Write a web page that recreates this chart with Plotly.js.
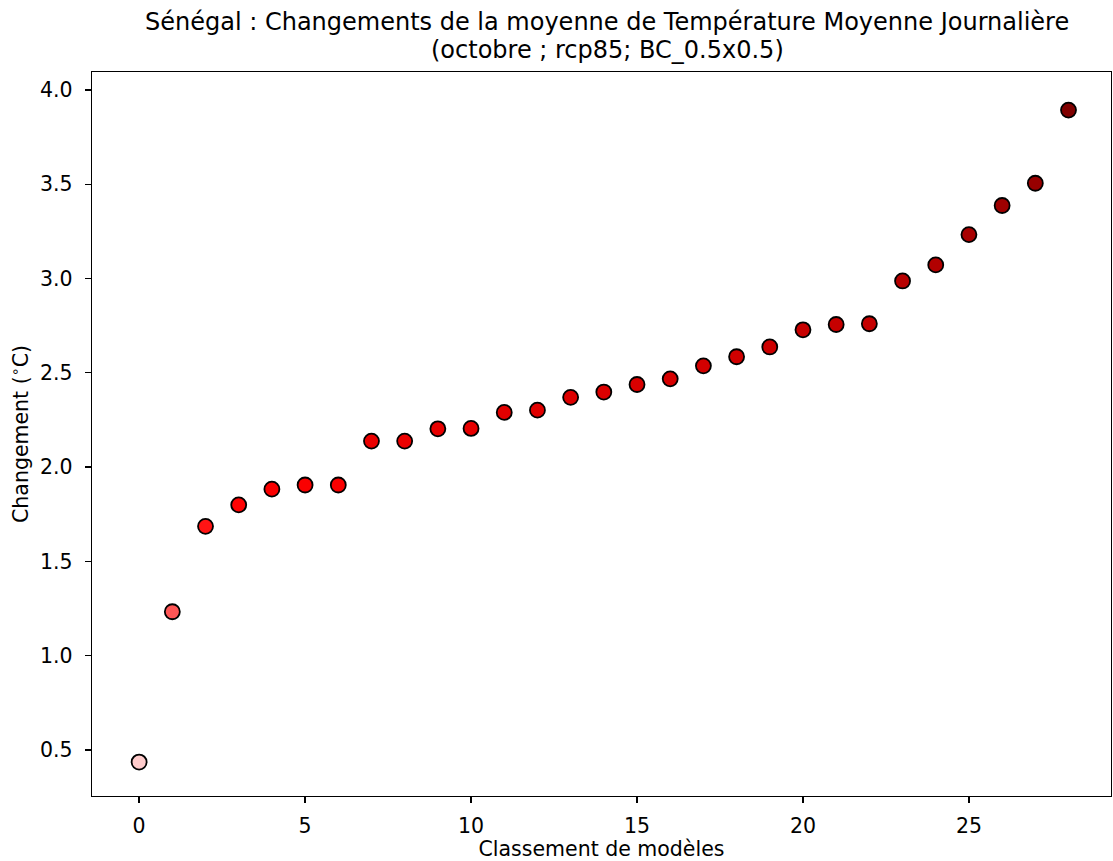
<!DOCTYPE html>
<html>
<head>
<meta charset="utf-8">
<script src="https://cdn.plot.ly/plotly-3.0.1.min.js"></script>
<style>html,body{margin:0;padding:0;background:#fff;}#chart{width:1113px;height:861px;}</style>
</head>
<body>
<div id="chart"></div>
<script>
const ranks = [0,1,2,3,4,5,6,7,8,9,10,11,12,13,14,15,16,17,18,19,20,21,22,23,24,25,26,27,28];
const changes = [0.436,1.233,1.686,1.800,1.883,1.905,1.905,2.138,2.138,2.203,2.205,2.290,2.302,2.370,2.398,2.438,2.468,2.537,2.585,2.637,2.728,2.756,2.760,2.987,3.072,3.233,3.387,3.505,3.893];
const xTicks = [0,5,10,15,20,25];
const yTicks = [0.5,1.0,1.5,2.0,2.5,3.0,3.5,4.0];
const yTickText = ['0.5','1.0','1.5','2.0','2.5','3.0','3.5','4.0'];
const titleLines = ['Sénégal : Changements de la moyenne de Température Moyenne Journalière', '(octobre ; rcp85; BC_0.5x0.5)'];

const font = "DejaVu Sans, sans-serif";
const trace = {
  x: ranks, y: changes, type: 'scatter', mode: 'markers',
  marker: {
    size: 15,
    color: changes,
    cmin: Math.min(...changes), cmax: Math.max(...changes),
    colorscale: [[0,'#ffcccc'],[0.4,'#ff0000'],[1,'#800000']],
    line: {color: '#000', width: 1.8}
  },
  hoverinfo: 'x+y'
};
const axisCommon = {
  showline: true, linecolor: '#000', linewidth: 1.4, mirror: true,
  ticks: 'outside', ticklen: 6, tickwidth: 1.4, tickcolor: '#000',
  showgrid: false, zeroline: false,
  tickfont: {family: font, size: 20.5, color: '#000'}
};
const layout = {
  width: 1113, height: 861,
  margin: {l: 92, r: 2, t: 72, b: 65},
  paper_bgcolor: '#fff', plot_bgcolor: '#fff',
  showlegend: false,
  annotations: titleLines.map((t, i) => ({
    text: t, xref: 'paper', yref: 'paper', x: 0.5054, y: i === 0 ? 1.0685 : 1.0305,
    xanchor: 'center', yanchor: 'middle', showarrow: false,
    font: {family: font, size: 24, color: '#000'}
  })),
  xaxis: Object.assign({}, axisCommon, {
    range: [-1.42, 29.28], tickvals: xTicks, ticktext: xTicks.map(String), ticklabelstandoff: 5,
    title: {text: 'Classement de modèles', font: {family: font, size: 20.5, color: '#000'}, standoff: 13}
  }),
  yaxis: Object.assign({}, axisCommon, {
    range: [0.256, 4.095], tickvals: yTicks, ticktext: yTickText, ticklabelstandoff: 8,
    title: {text: 'Changement (<sup>∘</sup>C)', font: {family: font, size: 20.5, color: '#000'}, standoff: 5}
  })
};
Plotly.newPlot('chart', [trace], layout, {displayModeBar: false, staticPlot: true});
</script>
</body>
</html>
